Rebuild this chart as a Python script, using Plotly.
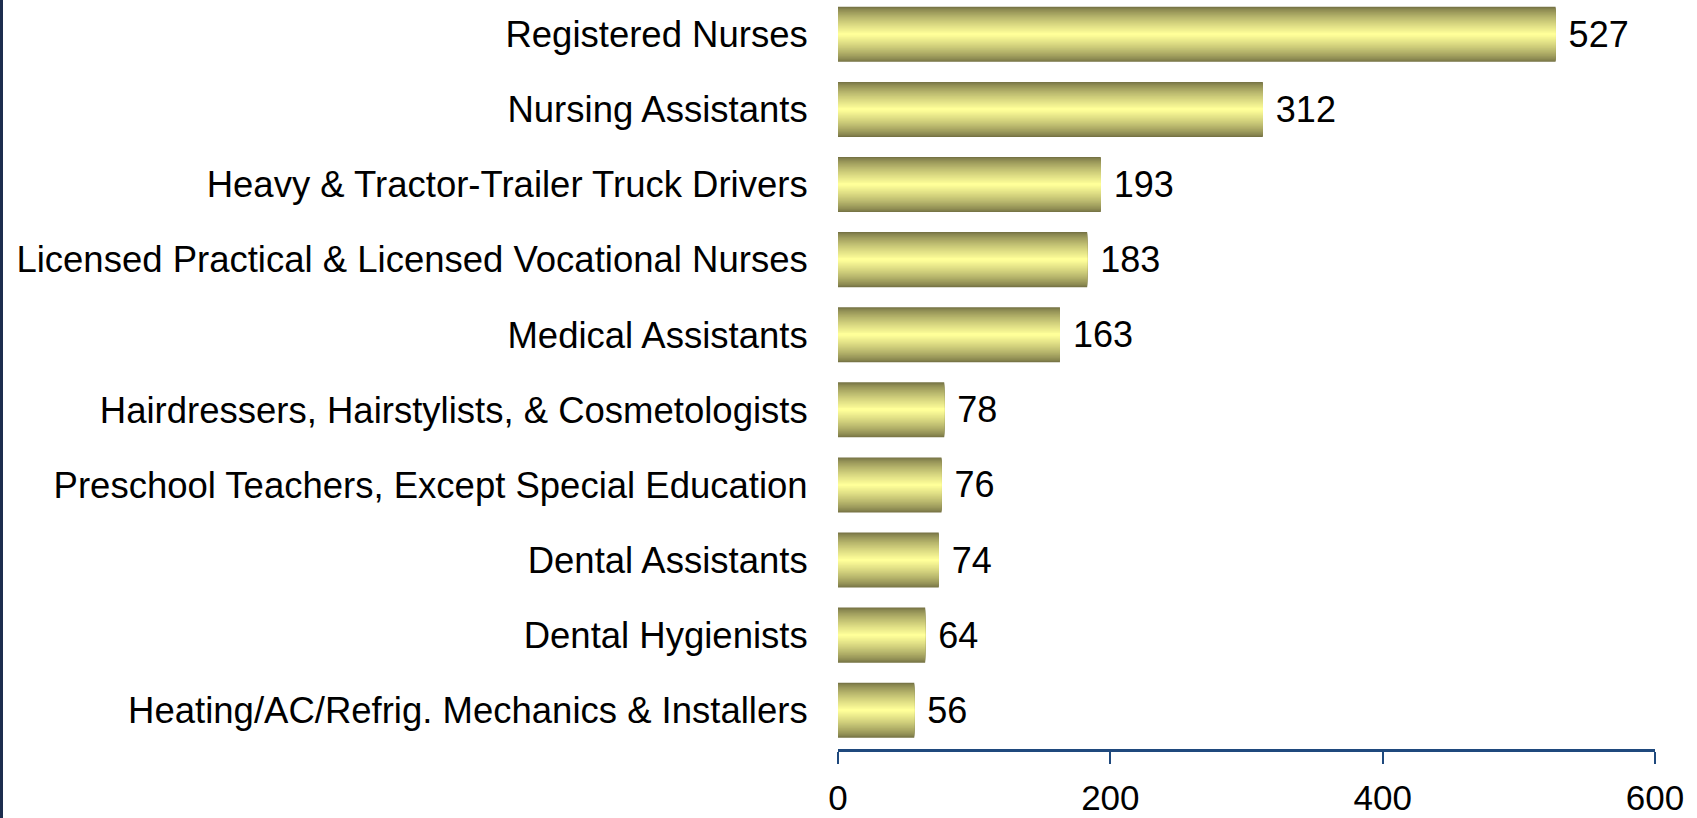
import plotly.graph_objects as go

categories = [
    "Registered Nurses",
    "Nursing Assistants",
    "Heavy & Tractor-Trailer Truck Drivers",
    "Licensed Practical & Licensed Vocational Nurses",
    "Medical Assistants",
    "Hairdressers, Hairstylists, & Cosmetologists",
    "Preschool Teachers, Except Special Education",
    "Dental Assistants",
    "Dental Hygienists",
    "Heating/AC/Refrig. Mechanics & Installers",
]
values = [527, 312, 193, 183, 163, 78, 76, 74, 64, 56]
x_ticks = [0, 200, 400, 600]

FONT = "Liberation Sans, Arial, sans-serif"
DARK = (118, 115, 68)
LIGHT = (255, 255, 153)
AXIS = "#1F497D"

N = 30
W0 = 0.733
fig = go.Figure()
for k in range(N):
    t = k / (N - 1)
    t = t ** 0.75
    c = tuple(round(DARK[i] + (LIGHT[i] - DARK[i]) * t) for i in range(3))
    w = W0 * (1 - k / N)
    kw = {}
    if k == 0:
        kw = dict(
            text=[f" {v}" for v in values],
            textposition="outside",
            textfont=dict(family=FONT, size=36, color="black"),
            cliponaxis=False,
        )
    fig.add_trace(go.Bar(
        x=values, y=categories, orientation="h", width=w,
        marker=dict(color=f"rgb{c}", line=dict(width=0)),
        showlegend=False, hoverinfo="x+y", **kw,
    ))

L, R, T, B = 838, 42, 0, 69
fig.update_layout(
    template="none",
    width=1697, height=818,
    barmode="overlay",
    margin=dict(l=L, r=R, t=T, b=B, pad=0, autoexpand=False),
    paper_bgcolor="white", plot_bgcolor="white",
    font=dict(family=FONT, size=36, color="black"),
)
fig.update_xaxes(
    automargin=False,
    range=[0, 600], tickvals=x_ticks, ticktext=[str(v) for v in x_ticks],
    showgrid=False, zeroline=False,
    showline=True, linecolor=AXIS, linewidth=2.5,
    ticks="outside", ticklen=12, tickwidth=2, tickcolor=AXIS,
    ticklabelstandoff=4,
    tickfont=dict(family=FONT, size=35, color="black"),
)
fig.update_yaxes(
    automargin=False,
    range=[9.516, -0.457], showgrid=False, zeroline=False, showline=False,
    ticks="outside", ticklen=22, tickcolor="rgba(0,0,0,0)",
    tickfont=dict(family=FONT, size=36.5, color="black"),
)
plot_w = 1697 - L - R
fig.add_shape(type="line", xref="paper", yref="paper",
              x0=-(L - 1.5) / plot_w, x1=-(L - 1.5) / plot_w, y0=-1, y1=2,
              line=dict(color="#1C2D4E", width=3))

fig.write_html(
    "out.html",
    config={"displayModeBar": False},
    post_script="document.body.style.margin='0';document.body.style.overflow='hidden';",
)
